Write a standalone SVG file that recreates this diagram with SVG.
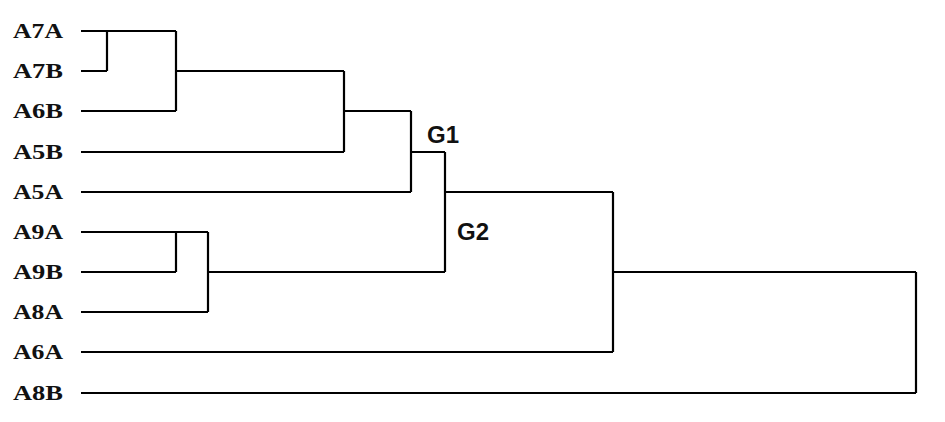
<svg xmlns="http://www.w3.org/2000/svg" width="945" height="422" viewBox="0 0 945 422">
<style>
.lbl{font-family:"Liberation Serif","Times New Roman",serif;font-weight:bold;font-size:20px;fill:#111}
.grp{font-family:"Liberation Sans",Arial,sans-serif;font-weight:bold;font-size:24px;fill:#111}
.ln{stroke:#000;stroke-width:2.2;fill:none}
</style>
<rect width="945" height="422" fill="#fff"/>
<g id="labels">
<g id="A7A"><text class="lbl" x="13" y="38" textLength="50" lengthAdjust="spacingAndGlyphs">A7A</text></g>
<g id="A7B"><text class="lbl" x="13" y="78" textLength="50" lengthAdjust="spacingAndGlyphs">A7B</text></g>
<g id="A6B"><text class="lbl" x="13" y="118" textLength="50" lengthAdjust="spacingAndGlyphs">A6B</text></g>
<g id="A5B"><text class="lbl" x="13" y="159" textLength="50" lengthAdjust="spacingAndGlyphs">A5B</text></g>
<g id="A5A"><text class="lbl" x="13" y="199" textLength="50" lengthAdjust="spacingAndGlyphs">A5A</text></g>
<g id="A9A"><text class="lbl" x="13" y="239" textLength="50" lengthAdjust="spacingAndGlyphs">A9A</text></g>
<g id="A9B"><text class="lbl" x="13" y="279" textLength="50" lengthAdjust="spacingAndGlyphs">A9B</text></g>
<g id="A8A"><text class="lbl" x="13" y="319" textLength="50" lengthAdjust="spacingAndGlyphs">A8A</text></g>
<g id="A6A"><text class="lbl" x="13" y="359" textLength="50" lengthAdjust="spacingAndGlyphs">A6A</text></g>
<g id="A8B"><text class="lbl" x="13" y="400" textLength="50" lengthAdjust="spacingAndGlyphs">A8B</text></g>
<g id="G1"><text class="grp" x="427" y="143">G1</text></g>
<g id="G2"><text class="grp" x="457" y="240">G2</text></g>
</g>
<g id="connectors">
<path class="ln" d="M81 31H176M107 31V71M81 71H107M176 31V111M81 111H176M176 71H344M344 71V152M81 152H344M344 111H411M411 111V192M81 192H411M411 152H445M445 152V272M445 192H613"/>
<path class="ln" d="M81 232H208M176 232V272M81 272H176M208 232V312M81 312H208M208 272H445M613 192V352M81 352H613M613 272H916M916 272V393M81 393H916"/>
</g>
</svg>
